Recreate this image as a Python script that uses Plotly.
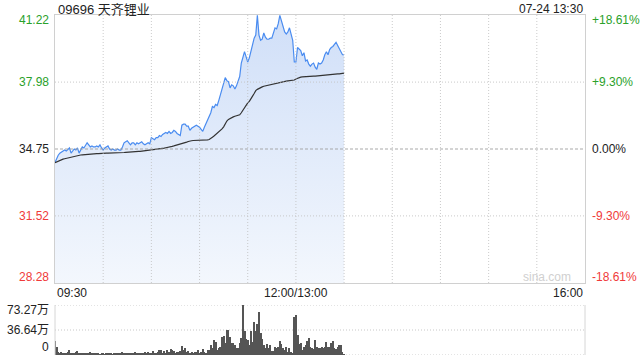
import plotly.graph_objects as go

title_text = "09696 天齐锂业"
stamp_text = "07-24 13:30"
prev_close = 34.75
price_ticks = [41.22, 37.98, 34.75, 31.52, 28.28]
pct_labels = ["+18.61%", "+9.30%", "0.00%", "-9.30%", "-18.61%"]
price_labels = ["41.22", "37.98", "34.75", "31.52", "28.28"]
vol_ticks = [73.27, 36.64, 0]
vol_labels = ["73.27万", "36.64万", "0"]
time_tick_pos = [0, 150, 330]
time_tick_labels = ["09:30", "12:00/13:00", "16:00"]
grid_minutes = [30, 60, 90, 120, 150, 180, 210, 240, 270, 300]

price = [
    34.10, 34.30, 34.45, 34.55, 34.60, 34.65, 34.70, 34.65, 34.75, 34.80,
    34.55, 34.65, 34.75, 34.70, 34.80, 34.55, 34.70, 34.85, 34.80, 34.95,
    35.05, 34.95, 34.85, 34.90, 34.85, 34.85, 34.90, 34.85, 34.95, 34.80,
    34.70, 34.80, 34.85, 34.90, 34.75, 34.70, 34.75, 34.70, 34.70, 34.75,
    34.70, 34.70, 34.85, 35.05, 35.10, 35.15, 35.05, 34.95, 35.05, 35.05,
    34.95, 35.05, 35.00, 35.05, 35.10, 35.00, 34.95, 35.00, 35.05, 35.00,
    35.30, 35.25, 35.20, 35.30, 35.30, 35.40, 35.35, 35.45, 35.50, 35.55,
    35.50, 35.60, 35.50, 35.55, 35.65, 35.60, 35.50, 35.45, 35.40, 35.90,
    35.95, 35.95, 35.85, 35.85, 35.65, 35.75, 35.80, 35.85, 35.90, 35.85,
    35.80, 35.70, 35.60, 35.80, 36.00, 36.15, 36.30, 36.50, 36.80, 36.75,
    36.90, 36.85, 37.10, 37.35, 37.60, 37.85, 38.20, 38.05, 38.00, 37.70,
    37.85, 37.80, 37.65, 37.80, 38.00, 38.25, 38.90, 39.20, 39.45, 39.20,
    38.95, 39.15, 39.45, 39.70, 40.10, 40.25, 41.20, 40.25, 40.00, 40.05,
    40.35, 40.15, 40.05, 40.05, 40.10, 40.10, 40.30, 40.60, 40.55, 40.80,
    41.20, 40.90, 40.70, 40.40, 40.30, 40.40, 40.60, 40.30, 40.00, 38.95,
    38.95, 39.65, 39.55, 39.50, 39.25, 39.40, 39.00, 39.05, 38.85, 38.75,
    38.85, 38.90, 38.70, 38.60, 38.90, 38.85, 38.90, 39.05, 39.30, 39.45,
    39.30, 39.55, 39.65, 39.70, 39.80, 39.90, 39.75, 39.60, 39.40, 39.30,
    39.30,
]

avg_price = [
    34.09, 34.13, 34.17, 34.20, 34.23, 34.26, 34.28, 34.30, 34.33, 34.35,
    34.37, 34.38, 34.40, 34.42, 34.43, 34.45, 34.46, 34.47, 34.48, 34.49,
    34.50, 34.50, 34.51, 34.51, 34.52, 34.52, 34.53, 34.53, 34.54, 34.54,
    34.54, 34.55, 34.55, 34.55, 34.55, 34.56, 34.56, 34.56, 34.56, 34.56,
    34.57, 34.57, 34.57, 34.58, 34.59, 34.60, 34.61, 34.61, 34.62, 34.62,
    34.63, 34.63, 34.64, 34.64, 34.65, 34.65, 34.66, 34.66, 34.67, 34.67,
    34.69, 34.70, 34.71, 34.72, 34.74, 34.75, 34.76, 34.78, 34.79, 34.81,
    34.82, 34.84, 34.86, 34.88, 34.90, 34.92, 34.94, 34.95, 34.97, 35.00,
    35.03, 35.06, 35.08, 35.11, 35.14, 35.15, 35.16, 35.16, 35.17, 35.17,
    35.17, 35.18, 35.18, 35.18, 35.18, 35.19, 35.21, 35.25, 35.32, 35.38,
    35.44, 35.50, 35.57, 35.63, 35.72, 35.82, 35.98, 36.10, 36.18, 36.23,
    36.26, 36.30, 36.33, 36.35, 36.38, 36.40, 36.50, 36.62, 36.77, 36.88,
    36.98, 37.05, 37.15, 37.30, 37.43, 37.57, 37.63, 37.68, 37.72, 37.75,
    37.78, 37.80, 37.82, 37.84, 37.86, 37.87, 37.89, 37.91, 37.92, 37.94,
    37.97, 37.99, 38.00, 38.02, 38.03, 38.04, 38.05, 38.06, 38.07, 38.08,
    38.13, 38.17, 38.20, 38.22, 38.23, 38.24, 38.25, 38.25, 38.26, 38.26,
    38.27, 38.27, 38.27, 38.28, 38.29, 38.30, 38.30, 38.31, 38.32, 38.33,
    38.33, 38.34, 38.35, 38.35, 38.36, 38.37, 38.38, 38.38, 38.39, 38.40,
    38.41,
]

volume = [
    20, 12, 4, 3, 5, 3, 2, 3, 4, 7,
    3, 3, 2, 5, 6, 3, 2, 2, 3, 2,
    2, 3, 5, 2, 2, 3, 2, 2, 1, 2,
    2, 1, 2, 2, 3, 2, 1, 2, 3, 2,
    3, 2, 4, 3, 2, 3, 2, 3, 2, 3,
    4, 2, 3, 2, 3, 2, 4, 3, 5, 3,
    2, 6, 3, 2, 4, 7, 7, 3, 6, 3,
    8, 4, 9, 7, 6, 3, 4, 4, 6, 13,
    8, 10, 5, 6, 3, 4, 2, 4, 4, 7,
    3, 5, 8.3, 4.9, 3, 7.3, 7.3, 14.7, 10.7, 22,
    19.5, 7.3, 10.7, 12.2, 26.9, 28.3, 18.1, 36.6, 36.6, 26.9,
    18.1, 18.1, 14.7, 10.7, 9.8, 18.1, 25.4, 73.27, 35.2, 23.4,
    22, 14.7, 35.2, 19.5, 47.9, 35.2, 45, 63.5, 31.7, 23.4,
    14.7, 10.7, 15.6, 9.8, 14.7, 5.9, 5.9, 12.2, 10.7, 12.2,
    20.5, 15.6, 9.8, 7.3, 12.2, 4.9, 10.7, 4.9, 2.4, 56.2,
    58.6, 29.3, 15.6, 17.1, 7.3, 12.2, 14.7, 20.5, 25.4, 12.2,
    10.7, 8.8, 22, 12.2, 9.8, 10.7, 12.2, 9.8, 12.2, 19.5,
    12.2, 12.2, 17.1, 20.5, 10.7, 8.8, 12.2, 14.7, 14.7, 3.9,
    1,
]

minutes = list(range(len(price)))
base_line = [price_ticks[-1]] * len(price)

GREEN = "#2aa12a"
RED = "#f03a3a"
FONT = "Liberation Sans, Arial, Noto Sans CJK SC, sans-serif"

x0, x1 = 55 / 640, 585 / 640
main_dom = [(360 - 283) / 360, (360 - 15) / 360]
vol_dom = [(360 - 355) / 360, (360 - 305) / 360]

fig = go.Figure()
fig.add_trace(go.Scatter(x=minutes, y=base_line, mode="lines",
                         line=dict(width=0, color="rgba(0,0,0,0)"),
                         hoverinfo="skip", xaxis="x", yaxis="y"))
fig.add_trace(go.Scatter(
    x=minutes, y=price, mode="lines", fill="tonexty",
    fillgradient=dict(type="vertical", start=price_ticks[-1], stop=price_ticks[0],
                      colorscale=[[0, "rgb(243,247,253)"], [1, "rgb(208,223,248)"]]),
    line=dict(color="#4a8cf0", width=1.2), xaxis="x", yaxis="y"))
fig.add_trace(go.Scatter(x=minutes, y=avg_price, mode="lines",
                         line=dict(color="#333333", width=1.2), xaxis="x", yaxis="y"))
fig.add_trace(go.Bar(x=minutes, y=volume, width=0.62, marker=dict(color="#555555", line=dict(width=0)),
                     xaxis="x2", yaxis="y2"))

shapes = []
# vertical gridlines main (drawn above fill, as in reference)
for m in grid_minutes:
    shapes.append(dict(type="line", xref="x", x0=m, x1=m, yref="paper",
                       y0=main_dom[0], y1=main_dom[1],
                       line=dict(color="rgba(190,190,190,0.8)", width=1, dash="1px,2px"), layer="above"))
# horizontal gridlines main
for v in price_ticks[1:-1]:
    if v == prev_close:
        ln = dict(color="rgba(160,160,160,0.9)", width=1, dash="3px,2px")
    else:
        ln = dict(color="rgba(195,195,195,0.9)", width=1, dash="1px,2px")
    shapes.append(dict(type="line", xref="paper", x0=x0, x1=x1, yref="y", y0=v, y1=v,
                       line=ln, layer="above"))
# volume gridlines
for v in vol_ticks:
    shapes.append(dict(type="line", xref="paper", x0=x0, x1=x1, yref="y2", y0=v, y1=v,
                       line=dict(color="#c8c8c8", width=1, dash="1px,2px"), layer="below"))
for xx in (x0, x1):
    shapes.append(dict(type="line", xref="paper", x0=xx, x1=xx, yref="paper",
                       y0=vol_dom[0], y1=vol_dom[1], line=dict(color="#d6d6d6", width=1)))

ann = []
ann.append(dict(text=title_text, xref="paper", yref="paper", x=56 / 640, y=1 - 9 / 360,
                xanchor="left", yanchor="middle", showarrow=False, font=dict(size=13, color="#222")))
ann.append(dict(text=stamp_text, xref="paper", yref="paper", x=x1, y=1 - 9 / 360,
                xanchor="right", yanchor="middle", showarrow=False, font=dict(size=12, color="#222")))
shift = [-5, 0, 0, 0, 6]
for i, v in enumerate(price_ticks):
    col = GREEN if v > prev_close else (RED if v < prev_close else "#222")
    ann.append(dict(text=price_labels[i], xref="paper", yref="y", x=x0, y=v, xshift=-4, yshift=shift[i],
                    xanchor="right", yanchor="middle", showarrow=False, font=dict(size=12, color=col)))
    ann.append(dict(text=pct_labels[i], xref="paper", yref="y", x=x1, y=v, xshift=5, yshift=shift[i],
                    xanchor="left", yanchor="middle", showarrow=False, font=dict(size=12, color=col)))
anchors = ["left", "center", "right"]
for p, lab, a in zip(time_tick_pos, time_tick_labels, anchors):
    ann.append(dict(text=lab, xref="x", yref="paper", x=p, y=1 - 293 / 360,
                    xanchor=a, yanchor="middle", showarrow=False, font=dict(size=12, color="#222")))
vshift = [-5, 0, 8]
for v, lab, s in zip(vol_ticks, vol_labels, vshift):
    ann.append(dict(text=lab, xref="paper", yref="y2", x=x0, y=v, xshift=-4, yshift=s,
                    xanchor="right", yanchor="middle", showarrow=False, font=dict(size=12, color="#222")))
ann.append(dict(text="sina.com", xref="paper", yref="paper", x=573 / 640, y=1 - 277 / 360,
                xanchor="right", yanchor="middle", showarrow=False, font=dict(size=12, color="#d0d0d0")))

fig.update_layout(
    width=640, height=360, margin=dict(l=0, r=0, t=0, b=0),
    paper_bgcolor="white", plot_bgcolor="white", showlegend=False,
    font=dict(family=FONT, size=12),
    xaxis=dict(domain=[x0, x1], range=[0, 330], showgrid=False, showticklabels=False,
               zeroline=False, showline=True, linecolor="#d0d0d0", mirror=True, ticks="", anchor="y"),
    yaxis=dict(domain=main_dom, range=[price_ticks[-1], price_ticks[0]], showgrid=False,
               showticklabels=False, zeroline=False, showline=True, linecolor="#d0d0d0",
               mirror=True, ticks="", anchor="x"),
    xaxis2=dict(domain=[x0, x1], range=[0, 330], showgrid=False, showticklabels=False,
                zeroline=False, showline=False, ticks="", anchor="y2"),
    yaxis2=dict(domain=vol_dom, range=[0, vol_ticks[0]], showgrid=False, showticklabels=False,
                zeroline=False, showline=False, ticks="", anchor="x2"),
    shapes=shapes, annotations=ann, bargap=0,
)

fig.write_html("out.html")
